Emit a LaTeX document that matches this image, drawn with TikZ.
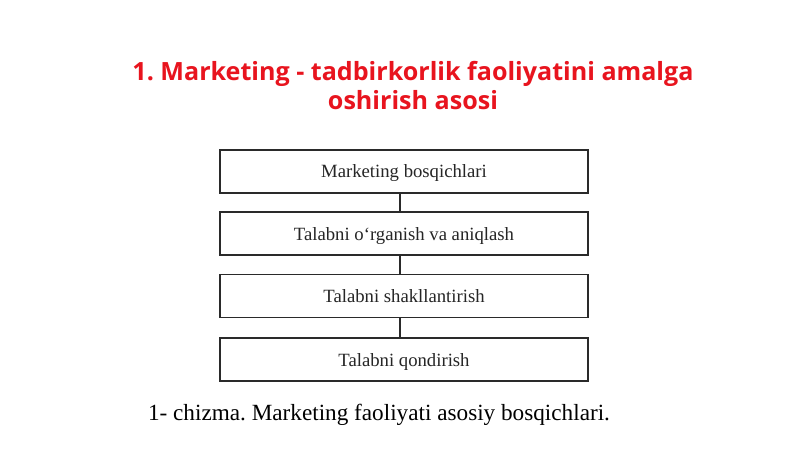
\documentclass[tikz,border=0pt]{standalone}
\usepackage{fontspec}
\setmainfont{Liberation Serif}
\newfontfamily\titlefont{Open Sans}
\definecolor{titlered}{HTML}{E8141E}
\definecolor{boxline}{HTML}{2A2A2A}
\frenchspacing
\begin{document}
\begin{tikzpicture}[x=1pt,y=-1pt,
  stagebox/.style={draw=boxline,line width=1.3pt,minimum width=368pt,minimum height=43pt,inner sep=0pt,text height=13pt,text depth=0pt,font=\fontsize{18.7}{22}\selectfont,text=black!85},
  link/.style={draw=boxline,line width=1.3pt}]
\useasboundingbox (0,0) rectangle (800,449);
\fill[white] (0,0) rectangle (800,449);
\node[font=\titlefont\bfseries\fontsize{25.1}{28.5}\selectfont,text=titlered,align=center,anchor=north] (title) at (413,58) {1. Marketing - tadbirkorlik faoliyatini amalga\\oshirish asosi};
\node[stagebox] (b1) at (404,171.5) {Marketing bosqichlari};
\node[stagebox] (b2) at (404,233.5) {Talabni o‘rganish va aniqlash};
\node[stagebox] (b3) at (404,296) {Talabni shakllantirish};
\node[stagebox] (b4) at (404,359.5) {Talabni qondirish};
\draw[link] (b1.south -| 400,0) -- (b2.north -| 400,0);
\draw[link] (b2.south -| 400,0) -- (b3.north -| 400,0);
\draw[link] (b3.south -| 400,0) -- (b4.north -| 400,0);
\node[font=\fontsize{23.2}{26}\selectfont,anchor=base] (cap) at (379,420) {1- chizma. Marketing faoliyati asosiy bosqichlari.};
\end{tikzpicture}
\end{document}
